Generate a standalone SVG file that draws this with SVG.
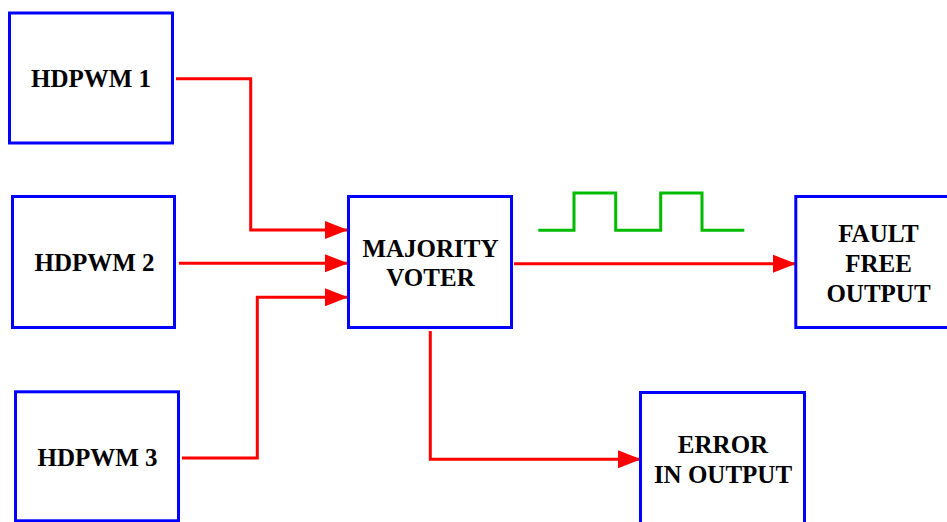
<svg xmlns="http://www.w3.org/2000/svg" width="947" height="522" viewBox="0 0 947 522">
<style>
.box{fill:#fff;stroke:#0000ff;stroke-width:3}
.lbl{font-family:"Liberation Serif","Times New Roman",serif;font-weight:bold;font-size:25px;fill:#000;text-anchor:middle}
.wire{fill:none;stroke:#ff0000;stroke-width:3;marker-end:url(#ah)}
.wire0{fill:none;stroke:#ff0000;stroke-width:3}
.wave{fill:none;stroke:#00bb00;stroke-width:3}
</style>
<defs>
<marker id="ah" viewBox="0 0 23 18" refX="23" refY="9" markerWidth="23" markerHeight="18" markerUnits="userSpaceOnUse" orient="auto">
<path d="M0,0 L23,9 L0,18 Z" fill="#ff0000"/>
</marker>
</defs>
<rect width="947" height="522" fill="#fff"/>
<g id="connectors">
<path class="wire" d="M176,78.7 H250.7 V230 H348"/>
<path class="wire" d="M179,263.3 H348"/>
<path class="wire" d="M182,458 H257.3 V297.3 H348"/>
<path class="wire" d="M514,263.7 H796"/>
<path class="wire" d="M430.3,331 V459.3 H641"/>
</g>
<g id="waveform">
<path class="wave" d="M538.3,230.3 H574 V193 H615.7 V230.3 H660.7 V193 H702 V230.3 H744.3"/>
</g>
<g id="hdpwm1">
<rect class="box" x="9.5" y="13" width="163" height="130"/>
<text class="lbl" x="91" y="87.3">HDPWM 1</text>
</g>
<g id="hdpwm2">
<rect class="box" x="12.5" y="196.5" width="162" height="131"/>
<text class="lbl" x="94.5" y="271">HDPWM 2</text>
</g>
<g id="hdpwm3">
<rect class="box" x="15.5" y="391.8" width="163" height="129"/>
<text class="lbl" x="97.5" y="465.7">HDPWM 3</text>
</g>
<g id="majority">
<rect class="box" x="348.5" y="196.5" width="163" height="131"/>
<text class="lbl" x="430.5" y="257.3">MAJORITY</text>
<text class="lbl" x="430.5" y="286">VOTER</text>
</g>
<g id="fault">
<rect class="box" x="795.8" y="196.5" width="170" height="131"/>
<text class="lbl" x="878.5" y="241.7">FAULT</text>
<text class="lbl" x="878.5" y="271.7">FREE</text>
<text class="lbl" x="878.5" y="301.7">OUTPUT</text>
</g>
<g id="error">
<rect class="box" x="640.5" y="392.5" width="164" height="140"/>
<text class="lbl" x="723" y="453.3">ERROR</text>
<text class="lbl" x="723" y="482.7">IN OUTPUT</text>
</g>
</svg>
